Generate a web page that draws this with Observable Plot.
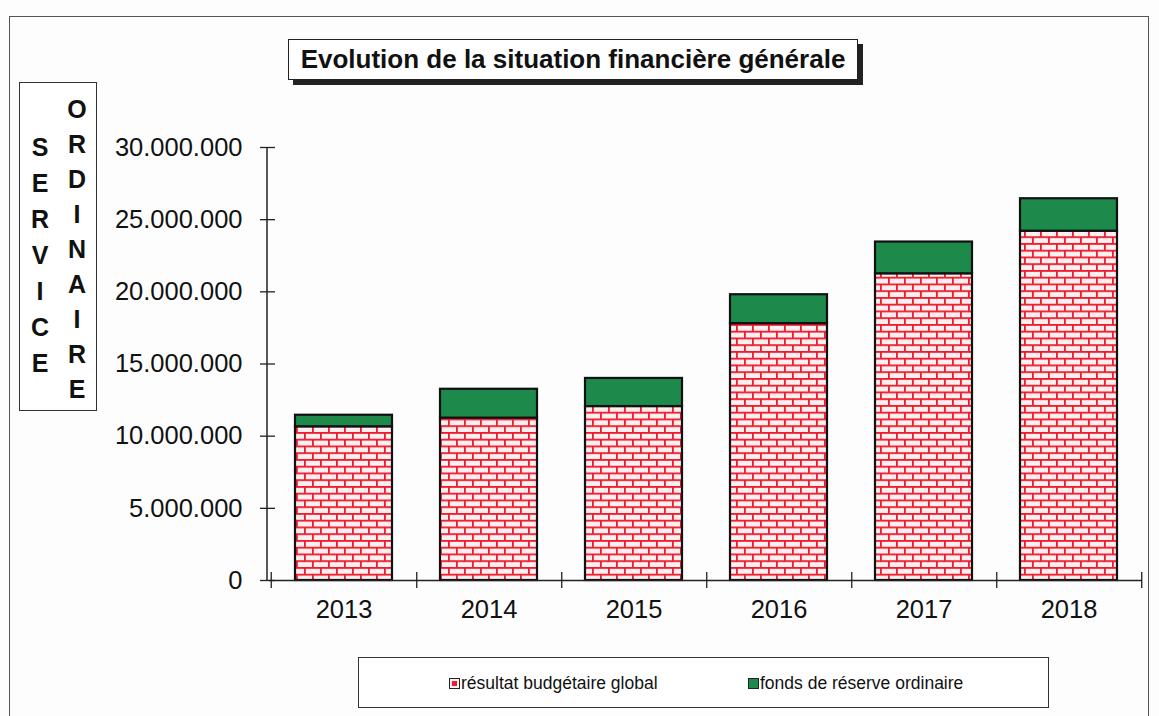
<!DOCTYPE html>
<html>
<head>
<meta charset="utf-8">
<script src="https://cdn.jsdelivr.net/npm/d3@7"></script>
<script src="https://cdn.jsdelivr.net/npm/@observablehq/plot@0.6"></script>
<style>
  html, body { margin: 0; padding: 0; background: #fdfdfd; width: 1159px; height: 716px; overflow: hidden; font-family: "Liberation Sans", Arial, sans-serif; }
  #frame { position: absolute; left: 9px; top: 16px; width: 1140px; height: 720px; border: 1.5px solid #555; box-sizing: border-box; }
  #chart { position: absolute; left: 0; top: 0; }
  #title { position: absolute; left: 288px; top: 39px; width: 570px; height: 41px; border: 1.5px solid #222; background: #fff; box-sizing: border-box; box-shadow: 5px 5px 0 #222; font-weight: bold; font-size: 26px; line-height: 38px; text-align: center; color: #111; white-space: nowrap; }
  #side { position: absolute; left: 19px; top: 82px; width: 78px; height: 329px; border: 1.5px solid #333; box-sizing: border-box; background: #fff; }
  .col { position: absolute; font-weight: bold; font-size: 25px; color: #111; text-align: center; width: 30px; line-height: 36px; }
  #legend { position: absolute; left: 358px; top: 657px; width: 691px; height: 51px; border: 1.5px solid #333; box-sizing: border-box; background: #fff; font-size: 17.5px; color: #111; }
  .item { position: absolute; top: 15px; display: flex; align-items: center; white-space: nowrap; }
  .sw { width: 9px; height: 9px; border: 1px solid #222; margin-right: 1px; }
</style>
</head>
<body>
<div id="frame"></div>
<div id="chart"></div>
<div id="title"></div>
<div id="side"></div>
<div id="legend"></div>
<script>
// ---- data ----
const years = ["2013", "2014", "2015", "2016", "2017", "2018"];
const resultat = [10650000, 11250000, 12050000, 17800000, 21250000, 24200000];
const fonds = [800000, 2000000, 1950000, 2000000, 2200000, 2250000];
const seriesNames = ["résultat budgétaire global", "fonds de réserve ordinaire"];
const yTicks = [0, 5000000, 10000000, 15000000, 20000000, 25000000, 30000000];
const titleText = "Evolution de la situation financière générale";
const sideLeft = "SERVICE";
const sideRight = "ORDINAIRE";

const rows = [];
years.forEach((y, i) => {
  rows.push({year: y, series: seriesNames[0], value: resultat[i]});
  rows.push({year: y, series: seriesNames[1], value: fonds[i]});
});

const loc = d3.formatLocale({decimal: ",", thousands: ".", grouping: [3], currency: ["", "€"]});
const fmt = loc.format(",d");
const blank = () => "";

const W = 1159, H = 716;
const mL = 269, mR = 17, mT = 147, mB = 136;

// y axis line as a function mark
function yAxisLine(index, scales, values, dimensions) {
  const g = d3.create("svg:g");
  g.append("line")
    .attr("x1", dimensions.marginLeft - 2).attr("x2", dimensions.marginLeft - 2)
    .attr("y1", dimensions.marginTop).attr("y2", dimensions.height - dimensions.marginBottom)
    .attr("stroke", "#222").attr("stroke-width", 1.5);
  return g.node();
}

const step = (W - mL - mR) / years.length;

const plot = Plot.plot({
  width: W,
  height: H,
  marginLeft: mL,
  marginRight: mR,
  marginTop: mT,
  marginBottom: mB,
  style: {background: "transparent", fontFamily: "'Liberation Sans', Arial, sans-serif", color: "#111"},
  x: {domain: years, paddingInner: 0.333, paddingOuter: 0.1665, label: null},
  y: {domain: [0, 30000000], label: null},
  color: {domain: seriesNames, range: ["url(#bricks)", "#1d8a4b"]},
  marks: [
    Plot.barY(rows, {x: "year", y: "value", fill: "series", stroke: "#111", strokeWidth: 2.2}),
    Plot.ruleY([0], {stroke: "#222", strokeWidth: 1.5}),
    yAxisLine,
    Plot.axisY({ticks: yTicks, tickSize: 0, tickPadding: 27, tickFormat: fmt, fontSize: 25.5, label: null}),
    Plot.axisY({ticks: yTicks, tickSize: 15, dx: 6, tickFormat: blank, label: null, stroke: "#222", strokeWidth: 1.3}),
    Plot.axisX({tickSize: 0, tickPadding: 19, fontSize: 25.5, label: null}),
    Plot.axisX({ticks: years, tickSize: 16, dx: step / 2, dy: -8, tickFormat: blank, label: null, stroke: "#222", strokeWidth: 1.3}),
    Plot.axisX({ticks: [years[0]], tickSize: 16, dx: -step / 2, dy: -8, tickFormat: blank, label: null, stroke: "#222", strokeWidth: 1.3})
  ]
});

// brick pattern definition
const defs = d3.select(plot).insert("defs", ":first-child");
const pat = defs.append("pattern").attr("id", "bricks").attr("patternUnits", "userSpaceOnUse")
  .attr("width", 16).attr("height", 13.5);
pat.append("rect").attr("width", 16).attr("height", 13.5).attr("fill", "#fdeef0");
pat.append("rect").attr("x", 0).attr("y", 0).attr("width", 16).attr("height", 1.8).attr("fill", "#ee1c2e");
pat.append("rect").attr("x", 0).attr("y", 6.75).attr("width", 16).attr("height", 1.8).attr("fill", "#ee1c2e");
pat.append("rect").attr("x", 0).attr("y", 0).attr("width", 1.8).attr("height", 6.75).attr("fill", "#ee1c2e");
pat.append("rect").attr("x", 8).attr("y", 6.75).attr("width", 1.8).attr("height", 6.75).attr("fill", "#ee1c2e");

document.getElementById("chart").appendChild(plot);

// title
document.getElementById("title").textContent = titleText;

// side vertical labels
const side = document.getElementById("side");
const colL = document.createElement("div");
colL.className = "col"; colL.style.left = "5px"; colL.style.top = "46px";
colL.innerHTML = sideLeft.split("").join("<br>");
side.appendChild(colL);
const colR = document.createElement("div");
colR.className = "col"; colR.style.left = "42px"; colR.style.top = "9px"; colR.style.lineHeight = "35px";
colR.innerHTML = sideRight.split("").join("<br>");
side.appendChild(colR);

// legend
const legend = document.getElementById("legend");
const legPos = [90, 389];
seriesNames.forEach((s, i) => {
  const it = document.createElement("div");
  it.className = "item"; it.style.left = legPos[i] + "px";
  const sw = document.createElement("span");
  sw.className = "sw";
  sw.style.background = i === 0 ? "#ee1c2e" : "#1d8a4b";
  if (i === 0) sw.style.boxShadow = "inset 0 0 0 2px #fdeef0";
  it.appendChild(sw);
  const t = document.createElement("span");
  t.textContent = s;
  it.appendChild(t);
  legend.appendChild(it);
});
</script>
</body>
</html>
